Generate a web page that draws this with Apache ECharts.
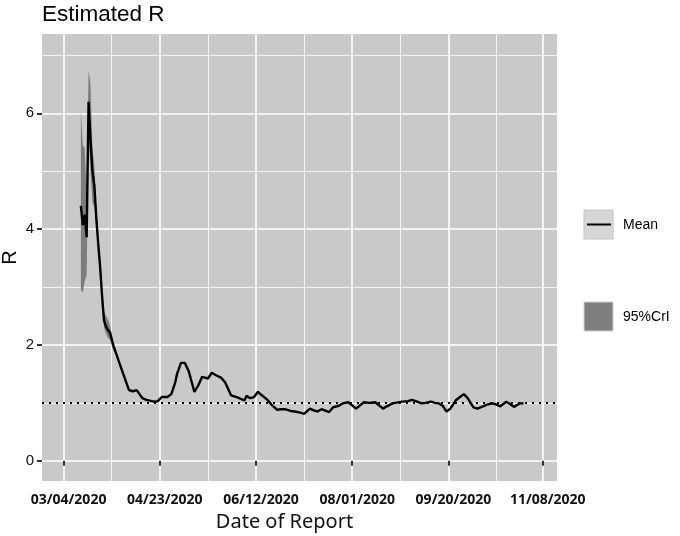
<!DOCTYPE html>
<html>
<head>
<meta charset="utf-8">
<script src="https://cdn.jsdelivr.net/npm/echarts@6/dist/echarts.min.js"></script>
<style>
  html, body { margin: 0; padding: 0; background: #fff; }
  #chart { width: 680px; height: 536px; }
</style>
</head>
<body>
<div id="chart"></div>
<script>
// mean R
const meanDates = [
  '2020-03-13', '2020-03-14', '2020-03-15', '2020-03-16', '2020-03-17', '2020-03-18',
  '2020-03-19', '2020-03-20', '2020-03-21', '2020-03-22', '2020-03-23', '2020-03-24',
  '2020-03-25', '2020-03-26', '2020-03-27', '2020-03-28', '2020-03-29', '2020-03-30',
  '2020-04-02', '2020-04-04', '2020-04-07', '2020-04-09', '2020-04-11', '2020-04-14',
  '2020-04-16', '2020-04-20', '2020-04-22', '2020-04-24', '2020-04-27', '2020-04-29',
  '2020-05-01', '2020-05-02', '2020-05-04', '2020-05-06', '2020-05-08', '2020-05-11',
  '2020-05-13', '2020-05-15', '2020-05-18', '2020-05-20', '2020-05-22', '2020-05-25',
  '2020-05-27', '2020-05-30', '2020-06-02', '2020-06-03', '2020-06-06', '2020-06-07',
  '2020-06-09', '2020-06-11', '2020-06-13', '2020-06-15', '2020-06-18', '2020-06-20',
  '2020-06-23', '2020-06-25', '2020-06-27', '2020-06-30', '2020-07-02', '2020-07-05',
  '2020-07-07', '2020-07-10', '2020-07-12', '2020-07-14', '2020-07-16', '2020-07-20',
  '2020-07-22', '2020-07-25', '2020-07-27', '2020-07-30', '2020-08-03', '2020-08-07',
  '2020-08-10', '2020-08-13', '2020-08-17', '2020-08-19', '2020-08-22', '2020-08-27',
  '2020-08-30', '2020-09-01', '2020-09-03', '2020-09-06', '2020-09-08', '2020-09-11',
  '2020-09-13', '2020-09-15', '2020-09-17', '2020-09-19', '2020-09-21', '2020-09-24',
  '2020-09-26', '2020-09-28', '2020-09-30', '2020-10-03', '2020-10-05', '2020-10-08',
  '2020-10-10', '2020-10-13', '2020-10-15', '2020-10-17', '2020-10-20', '2020-10-22',
  '2020-10-24', '2020-10-25', '2020-10-27', '2020-10-29'
];
const meanValues = [
  4.40, 4.07, 4.25, 3.86, 6.20, 5.55,
  5.00, 4.75, 4.20, 3.75, 3.35, 2.85,
  2.43, 2.32, 2.26, 2.22, 2.10, 1.98,
  1.69, 1.50, 1.22, 1.20, 1.22, 1.08,
  1.05, 1.02, 1.03, 1.10, 1.10, 1.15,
  1.35, 1.50, 1.69, 1.69, 1.55, 1.19,
  1.30, 1.45, 1.42, 1.52, 1.48, 1.43,
  1.35, 1.13, 1.10, 1.08, 1.04, 1.12,
  1.08, 1.10, 1.19, 1.13, 1.05, 0.97,
  0.88, 0.89, 0.89, 0.86, 0.85, 0.83,
  0.81, 0.90, 0.87, 0.85, 0.89, 0.84,
  0.92, 0.95, 0.99, 1.01, 0.90, 1.01,
  1.00, 1.01, 0.90, 0.94, 0.99, 1.02,
  1.03, 1.05, 1.03, 0.99, 1.00, 1.02,
  1.00, 0.99, 0.95, 0.85, 0.90, 1.05,
  1.10, 1.15, 1.08, 0.92, 0.90, 0.94,
  0.97, 0.99, 0.97, 0.94, 1.02, 0.98,
  0.93, 0.96, 0.99, 0.99
];

// 95% credible interval (only visible early on)
const bandDates = [
  '2020-03-13', '2020-03-14', '2020-03-15', '2020-03-16', '2020-03-17', '2020-03-18',
  '2020-03-19', '2020-03-20', '2020-03-21', '2020-03-22', '2020-03-23', '2020-03-24',
  '2020-03-25', '2020-03-26', '2020-03-27', '2020-03-28', '2020-03-29', '2020-03-30'
];
const bandLower = [2.95, 2.90, 3.10, 3.20, 5.60, 5.00, 4.45, 4.40, 4.00, 3.60, 3.20, 2.70, 2.30, 2.20, 2.12, 2.10, 2.00, 1.88];
const bandUpper = [6.05, 5.45, 5.40, 4.60, 6.75, 6.50, 5.40, 5.10, 4.40, 3.90, 3.50, 3.00, 2.60, 2.50, 2.45, 2.35, 2.20, 2.03];

const xTickDates = ['2020-03-04', '2020-04-23', '2020-06-12', '2020-08-01', '2020-09-20', '2020-11-08'];
const xMinorDates = ['2020-03-29', '2020-05-18', '2020-07-07', '2020-08-26', '2020-10-15'];
const yTicks = [0, 2, 4, 6];
const yMinorTicks = [1, 3, 5, 7];
const refLine = 1;

const DAY = 86400000;
const ts = s => echarts.number.parseDate(s).getTime();
const xMin = ts('2020-03-04') - 11.2 * DAY;
const xMax = ts('2020-11-08') + 7.4 * DAY;

const chart = echarts.init(document.getElementById('chart'));

const gridLine = (w) => ({ show: true, lineStyle: { color: '#ffffff', width: w } });
const fontMain = 'Liberation Sans, Arial, sans-serif';

// ribbon for the credible interval, drawn once as one polygon
const renderBand = (params, api) => {
  if (params.dataIndex !== 0) return null;
  const top = bandDates.map((d, i) => api.coord([ts(d), bandUpper[i]]));
  const bottom = bandDates.map((d, i) => api.coord([ts(d), bandLower[i]])).reverse();
  return {
    type: 'polygon',
    shape: { points: top.concat(bottom) },
    style: { fill: '#7d7d7d' }
  };
};

const option = {
  animation: false,
  backgroundColor: '#ffffff',
  title: {
    text: 'Estimated R',
    left: 42,
    top: 3,
    padding: 0,
    textStyle: { fontFamily: fontMain, fontSize: 22.5, fontWeight: 'normal', color: '#000' }
  },
  grid: {
    left: 42, right: 123, top: 34, bottom: 55,
    outerBoundsMode: 'none',
    containLabel: false,
    show: true, backgroundColor: '#c9c9c9', borderWidth: 0
  },
  xAxis: [
    {
      type: 'value',
      min: xMin,
      max: xMax,
      name: 'Date of Report',
      nameLocation: 'middle',
      nameGap: 31,
      nameTextStyle: { fontFamily: 'Noto Sans', fontSize: 20, color: '#111', padding: [0, 30, 0, 0] },
      axisLine: { show: false },
      axisTick: { show: true, length: 5, lineStyle: { color: '#333', width: 2 }, customValues: xTickDates.map(ts) },
      axisLabel: {
        customValues: xTickDates.map(ts),
        margin: 12,
        padding: [0, 0, 0, 10],
        fontFamily: 'Noto Sans', fontSize: 14, fontWeight: 'bold', color: '#111',
        formatter: v => echarts.time.format(v, '{MM}/{dd}/{yyyy}', false)
      },
      splitLine: gridLine(1.6)
    },
    {
      type: 'value',
      position: 'bottom',
      min: xMin,
      max: xMax,
      axisLine: { show: false },
      axisTick: { show: false, customValues: xMinorDates.map(ts) },
      axisLabel: { show: false, customValues: xMinorDates.map(ts) },
      splitLine: gridLine(0.8)
    }
  ],
  yAxis: [
    {
      type: 'value',
      min: -0.35,
      max: 7.37,
      name: 'R',
      nameLocation: 'middle',
      nameGap: 22,
      nameMoveOverlap: false,
      nameTextStyle: { fontFamily: fontMain, fontSize: 20, color: '#000' },
      axisLine: { show: false },
      axisTick: { show: true, length: 5, lineStyle: { color: '#333', width: 2 }, customValues: yTicks },
      axisLabel: { customValues: yTicks, margin: 8, fontFamily: fontMain, fontSize: 15, color: '#111' },
      splitLine: gridLine(1.6)
    },
    {
      type: 'value',
      position: 'left',
      min: -0.35,
      max: 7.37,
      axisLine: { show: false },
      axisTick: { show: false, customValues: yMinorTicks },
      axisLabel: { show: false, customValues: yMinorTicks },
      splitLine: gridLine(0.8)
    }
  ],
  series: [
    {
      name: '95%CrI',
      type: 'custom',
      renderItem: renderBand,
      data: bandDates.map((d, i) => [ts(d), bandLower[i], bandUpper[i]]),
      encode: { x: 0, y: [1, 2] },
      silent: true,
      z: 3
    },
    {
      name: 'Mean',
      type: 'line',
      data: meanDates.map((d, i) => [ts(d), meanValues[i]]),
      symbol: 'none',
      lineStyle: { color: '#000', width: 2.4 },
      z: 5,
      markLine: {
        silent: true,
        symbol: 'none',
        label: { show: false },
        lineStyle: { color: '#000', width: 2, type: [2, 5] },
        data: [{ yAxis: refLine }]
      }
    }
  ],
  graphic: [
    { type: 'rect', shape: { x: 584, y: 210, width: 29, height: 29 }, style: { fill: '#d6d6d6', stroke: '#c4c4c4', lineWidth: 1 } },
    { type: 'line', shape: { x1: 587, y1: 224.5, x2: 611, y2: 224.5 }, style: { stroke: '#000', lineWidth: 2 } },
    { type: 'text', x: 623, y: 225.5, style: { text: 'Mean', fontFamily: fontMain, fontSize: 14, fill: '#000', verticalAlign: 'middle' } },
    { type: 'rect', shape: { x: 584, y: 302, width: 29, height: 29 }, style: { fill: '#7f7f7f', stroke: '#d0d0d0', lineWidth: 1 } },
    { type: 'text', x: 623, y: 317, style: { text: '95%CrI', fontFamily: fontMain, fontSize: 14, fill: '#000', verticalAlign: 'middle' } }
  ]
};

chart.setOption(option);
</script>
</body>
</html>
